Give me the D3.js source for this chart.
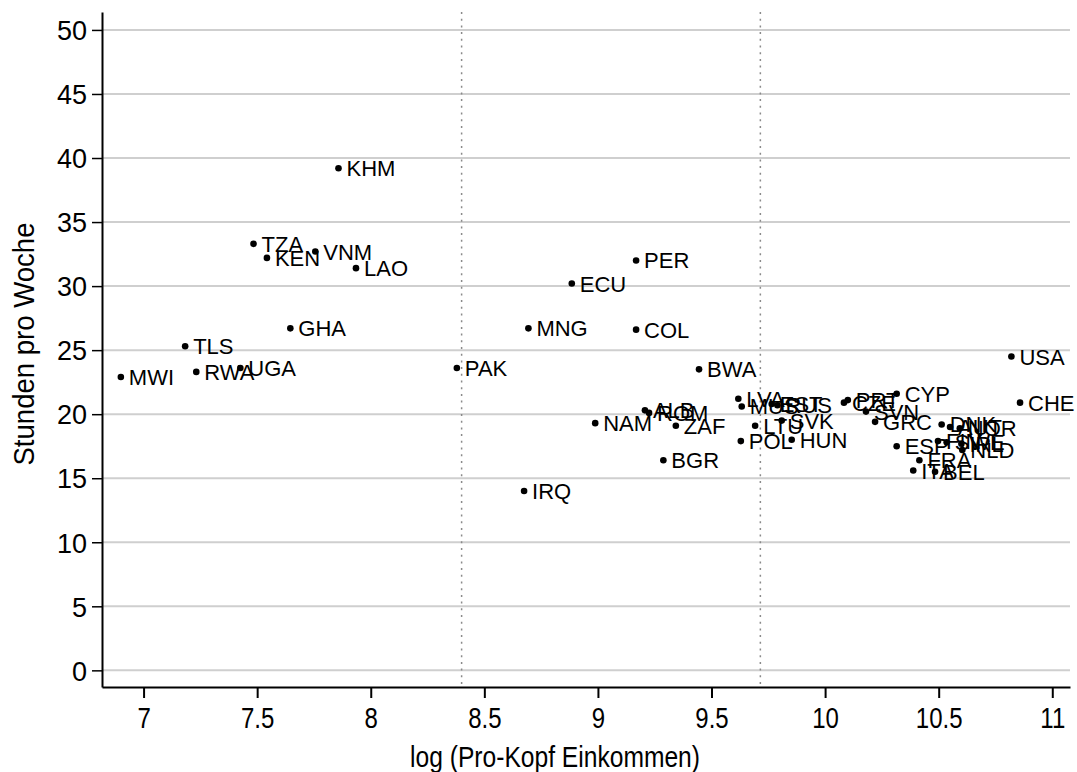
<!DOCTYPE html>
<html>
<head>
<meta charset="utf-8">
<script src="https://cdn.jsdelivr.net/npm/d3@7"></script>
<style>
  body { margin: 0; background: #fff; }
  text { font-family: "Liberation Sans", Arial, Helvetica, sans-serif; fill: #000; }
</style>
</head>
<body>
<script>
// Data: country code, log income, hours per week
const countries = ["KHM","TZA","KEN","VNM","LAO","GHA","TLS","RWA","UGA","MWI",
  "PER","ECU","MNG","COL","PAK","BWA","ALB","ROM","NAM","ZAF","BGR","IRQ",
  "LVA","MUS","EST","RUS","LTU","SVK","POL","HUN","CZE","PRT","SVN","GRC","CYP","ESP",
  "DNK","AUT","NOR","FIN","SWE","IRL","NLD","FRA","ITA","BEL","USA","CHE"];
const logIncome = [7.858,7.484,7.543,7.756,7.935,7.646,7.183,7.232,7.426,6.900,
  9.168,8.885,8.694,9.168,8.379,9.445,9.207,9.225,8.988,9.343,9.288,8.675,
  9.618,9.633,9.765,9.790,9.692,9.809,9.629,9.853,10.083,10.100,10.180,10.220,10.315,10.315,
  10.513,10.550,10.593,10.497,10.535,10.600,10.604,10.415,10.388,10.484,10.820,10.858];
const hours = [39.2,33.3,32.2,32.7,31.4,26.7,25.3,23.3,23.6,22.9,
  32.0,30.2,26.7,26.6,23.6,23.5,20.3,20.1,19.3,19.1,16.4,14.0,
  21.2,20.6,20.8,20.7,19.1,19.5,17.9,18.0,20.9,21.1,20.2,19.4,21.6,17.5,
  19.2,19.0,18.9,17.9,17.8,17.7,17.2,16.4,15.6,15.5,24.5,20.9];

const xTicks = [7, 7.5, 8, 8.5, 9, 9.5, 10, 10.5, 11];
const yTicks = [0, 5, 10, 15, 20, 25, 30, 35, 40, 45, 50];
const xRefLines = [8.4, 9.715];

const xTitle = "log (Pro-Kopf Einkommen)";
const yTitle = "Stunden pro Woche";

const W = 1077, H = 772;
const plot = { left: 102, right: 1070, top: 12, bottom: 687 };

const svg = d3.select('body')
  .append('svg')
  .attr('width', W)
  .attr('height', H);

const x = d3.scaleLinear()
  .domain([6.817, 11.078])
  .range([plot.left, plot.right]);

const y = d3.scaleLinear()
  .domain([-1.3, 51.4])
  .range([plot.bottom, plot.top]);

// horizontal grid
svg.append('g')
  .selectAll('line')
  .data(yTicks)
  .join('line')
  .attr('x1', plot.left)
  .attr('x2', plot.right)
  .attr('y1', d => y(d))
  .attr('y2', d => y(d))
  .attr('stroke', '#cfcfcf')
  .attr('stroke-width', 2);

// dotted reference lines
svg.append('g')
  .selectAll('line')
  .data(xRefLines)
  .join('line')
  .attr('x1', d => x(d))
  .attr('x2', d => x(d))
  .attr('y1', plot.top)
  .attr('y2', plot.bottom)
  .attr('stroke', '#8a8a8a')
  .attr('stroke-width', 1.5)
  .attr('stroke-dasharray', '2,4.7');

// axes
const xAxis = d3.axisBottom(x)
  .tickValues(xTicks)
  .tickFormat(d3.format('~g'))
  .tickSize(11)
  .tickSizeOuter(0);

const yAxis = d3.axisLeft(y)
  .tickValues(yTicks)
  .tickSize(10)
  .tickSizeOuter(0);

const gx = svg.append('g')
  .attr('transform', `translate(0, ${plot.bottom})`)
  .call(xAxis);

const gy = svg.append('g')
  .attr('transform', `translate(${plot.left}, 0)`)
  .call(yAxis);

gx.select('.domain').attr('stroke', '#000').attr('stroke-width', 2);
gy.select('.domain').attr('stroke', '#000').attr('stroke-width', 2);
gx.selectAll('.tick line').attr('stroke', '#000').attr('stroke-width', 2);
gy.selectAll('.tick line').attr('stroke', '#000').attr('stroke-width', 1.5);

gx.selectAll('.tick text')
  .attr('font-family', '"Liberation Sans", Arial, sans-serif')
  .attr('font-size', 30)
  .attr('y', 0)
  .attr('dy', 0)
  .attr('transform', 'translate(0, 41) scale(0.8, 1)');

gy.selectAll('.tick text')
  .attr('font-family', '"Liberation Sans", Arial, sans-serif')
  .attr('font-size', 27)
  .attr('x', -15)
  .attr('dy', '0.36em');

// axis titles
svg.append('text')
  .attr('x', 555)
  .attr('y', 767)
  .attr('text-anchor', 'middle')
  .attr('font-size', 29)
  .attr('textLength', 290)
  .attr('lengthAdjust', 'spacingAndGlyphs')
  .text(xTitle);

svg.append('text')
  .attr('transform', 'translate(34, 344) rotate(-90)')
  .attr('text-anchor', 'middle')
  .attr('font-size', 29)
  .attr('textLength', 243)
  .attr('lengthAdjust', 'spacingAndGlyphs')
  .text(yTitle);

// points and labels
const pts = countries.map((c, i) => ({ c, lx: logIncome[i], h: hours[i] }));

const g = svg.append('g');

g.selectAll('circle')
  .data(pts)
  .join('circle')
  .attr('cx', d => x(d.lx))
  .attr('cy', d => y(d.h))
  .attr('r', 3.3)
  .attr('fill', '#000');

g.selectAll('text')
  .data(pts)
  .join('text')
  .attr('x', d => x(d.lx) + 8)
  .attr('y', d => y(d.h) + 8)
  .attr('font-size', 22)
  .text(d => d.c);
</script>
</body>
</html>
